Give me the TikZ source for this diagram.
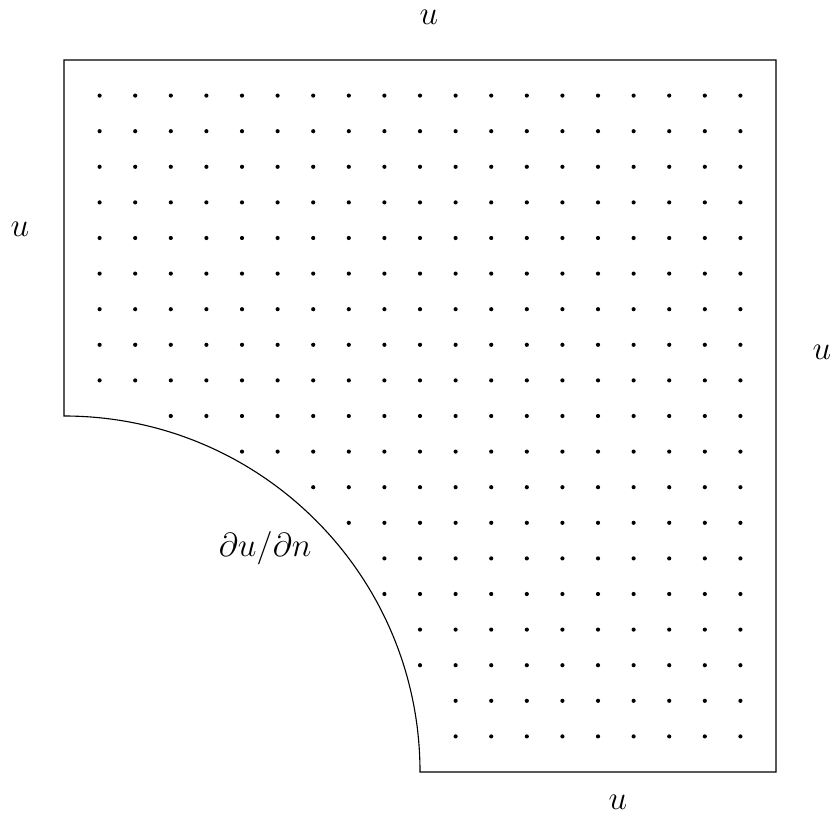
\documentclass[tikz,border=0pt]{standalone}
\begin{document}
\begin{tikzpicture}[x=0.45cm,y=0.45cm,
  gridpt/.style={fill=black},
  lbl/.style={inner sep=0pt,font=\fontsize{11.5}{14}\selectfont}]
\useasboundingbox (-1.7978,-1.3764) rectangle (21.685,21.685);
% domain boundary
\coordinate (arcTop) at (0,10);
\coordinate (arcEnd) at (10,0);
\coordinate (br) at (20,0);
\coordinate (tr) at (20,20);
\coordinate (tl) at (0,20);
\draw (arcTop) arc[start angle=90,end angle=0,radius=10] -- (br) -- (tr) -- (tl) -- cycle;
% grid points
\foreach \i in {1,...,19}{
  \foreach \j in {1,...,19}{
    \pgfmathtruncatemacro\dd{\i*\i+\j*\j}
    \ifnum\dd>105
      \fill[gridpt] (\i,\j) circle[radius=0.75pt];
    \fi
  }
}
% labels
\node[lbl] (ltop) at (10.25,21.21) {$u$};
\node[lbl] (lleft) at (-1.236,15.25) {$u$};
\node[lbl] (lright) at (21.29,11.80) {$u$};
\node[lbl] (lbot) at (15.56,-0.843) {$u$};
\node[lbl] (lnorm) at (5.65,6.28) {$\partial u/\partial n$};
\end{tikzpicture}
\end{document}
